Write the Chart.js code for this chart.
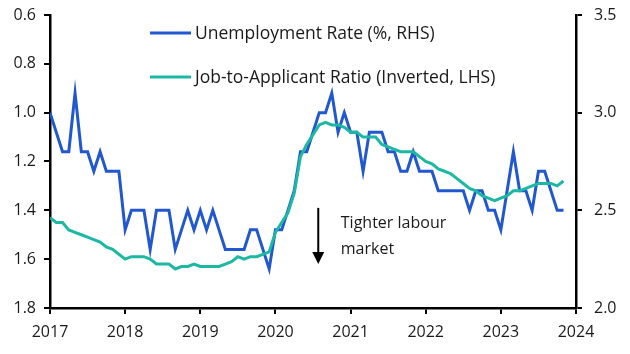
<!DOCTYPE html>
<html>
<head>
<meta charset="utf-8">
<script src="https://cdn.jsdelivr.net/npm/chart.js@4"></script>
<style>
  body { margin: 0; background: #fff; }
  #wrap { width: 630px; height: 354px; }
</style>
</head>
<body>
<div id="wrap"><canvas id="myChart" width="630" height="354"></canvas></div>
<script>
// monthly, Jan 2017 .. Nov 2023
const startYear = 2017;
const unemployment = [
    3.0, 2.9, 2.8, 2.8, 3.1, 2.8, 2.8, 2.7, 2.8, 2.7, 2.7, 2.7,
    2.4, 2.5, 2.5, 2.5, 2.3, 2.5, 2.5, 2.5, 2.3, 2.4, 2.5, 2.4,
    2.5, 2.4, 2.5, 2.4, 2.3, 2.3, 2.3, 2.3, 2.4, 2.4, 2.3, 2.2,
    2.4, 2.4, 2.5, 2.6, 2.8, 2.8, 2.9, 3.0, 3.0, 3.1, 2.9, 3.0,
    2.9, 2.9, 2.7, 2.9, 2.9, 2.9, 2.8, 2.8, 2.7, 2.7, 2.8, 2.7,
    2.7, 2.7, 2.6, 2.6, 2.6, 2.6, 2.6, 2.5, 2.6, 2.6, 2.5, 2.5,
    2.4, 2.6, 2.8, 2.6, 2.6, 2.5, 2.7, 2.7, 2.6, 2.5, 2.5
];
const jobRatio = [
    1.43, 1.45, 1.45, 1.48, 1.49, 1.50, 1.51, 1.52, 1.53, 1.55, 1.56, 1.58,
    1.60, 1.59, 1.59, 1.59, 1.60, 1.62, 1.62, 1.62, 1.64, 1.63, 1.63, 1.62,
    1.63, 1.63, 1.63, 1.63, 1.62, 1.61, 1.59, 1.60, 1.59, 1.59, 1.58, 1.57,
    1.49, 1.45, 1.41, 1.33, 1.18, 1.13, 1.09, 1.05, 1.04, 1.05, 1.05, 1.06,
    1.08, 1.08, 1.10, 1.10, 1.10, 1.13, 1.14, 1.15, 1.16, 1.16, 1.16, 1.18,
    1.20, 1.21, 1.23, 1.24, 1.25, 1.27, 1.29, 1.31, 1.32, 1.34, 1.35, 1.36,
    1.35, 1.34, 1.32, 1.32, 1.31, 1.30, 1.29, 1.29, 1.29, 1.30, 1.28
];
const leftTicks = [0.6, 0.8, 1.0, 1.2, 1.4, 1.6, 1.8];
const rightTicks = [2.0, 2.5, 3.0, 3.5];
const yearTicks = [2017, 2018, 2019, 2020, 2021, 2022, 2023, 2024];

const blue = '#2158cf';
const green = '#1db8a3';
const font = '"Open Sans", "Noto Sans", sans-serif';

function toPoints(arr) {
    return arr.map((v, i) => ({ x: startYear + i / 12, y: v }));
}

const overlay = {
    id: 'overlay',
    afterDraw(chart) {
        const c = chart.ctx;
        const xs = chart.scales.x, yl = chart.scales.yL;
        c.save();
        // legend
        c.lineWidth = 3;
        c.font = '17.5px ' + font;
        c.textBaseline = 'middle';
        c.fillStyle = '#1a1a1a';
        [[blue, 'Unemployment Rate (%, RHS)', 34], [green, 'Job-to-Applicant Ratio (Inverted, LHS)', 78]].forEach(([col, txt, y]) => {
            c.strokeStyle = col;
            c.beginPath();
            c.moveTo(150, y - 1);
            c.lineTo(191, y - 1);
            c.stroke();
            c.fillText(txt, 195, y);
        });
        // arrow annotation
        const ax = xs.getPixelForValue(2020.57);
        const y1 = yl.getPixelForValue(1.39), y2 = yl.getPixelForValue(1.62);
        c.strokeStyle = '#000';
        c.lineWidth = 2;
        c.beginPath();
        c.moveTo(ax, y1);
        c.lineTo(ax, y2 - 10);
        c.stroke();
        c.fillStyle = '#000';
        c.beginPath();
        c.moveTo(ax - 6, y2 - 12);
        c.lineTo(ax + 6, y2 - 12);
        c.lineTo(ax, y2);
        c.closePath();
        c.fill();
        c.fillStyle = '#1a1a1a';
        c.font = '16px ' + font;
        c.fillText('Tighter labour', xs.getPixelForValue(2020.87), yl.getPixelForValue(1.455));
        c.fillText('market', xs.getPixelForValue(2020.87), yl.getPixelForValue(1.56));
        c.restore();
    }
};

const axisStyle = {
    grid: { drawOnChartArea: false, drawTicks: true, tickLength: 6, color: '#000', lineWidth: 2 },
    border: { display: true, color: '#000', width: 2.5 }
};

function fixY(width) {
    return s => { s.width = width; s.paddingTop = 0; s.paddingBottom = 0; };
}

new Chart(document.getElementById('myChart'), {
    type: 'line',
    data: {
        datasets: [
            { label: 'Job-to-Applicant Ratio (Inverted, LHS)', data: toPoints(jobRatio), yAxisID: 'yL',
              borderColor: green, borderWidth: 3, pointRadius: 0, tension: 0 },
            { label: 'Unemployment Rate (%, RHS)', data: toPoints(unemployment), yAxisID: 'yR',
              borderColor: blue, borderWidth: 3, pointRadius: 0, tension: 0 }
        ]
    },
    options: {
        responsive: false,
        animation: false,
        layout: { padding: { top: 15 } },
        plugins: { legend: { display: false }, tooltip: { enabled: false } },
        scales: {
            x: {
                type: 'linear', min: 2017, max: 2024,
                afterBuildTicks: s => { s.ticks = yearTicks.map(v => ({ value: v })); },
                afterFit: s => { s.height = 46; s.paddingLeft = 0; s.paddingRight = 0; },
                ticks: { callback: v => String(v), color: '#1a1a1a', font: { family: font, size: 16 }, padding: 9, maxRotation: 0 },
                ...axisStyle
            },
            yL: {
                position: 'left', reverse: true, min: 0.6, max: 1.8,
                afterBuildTicks: s => { s.ticks = leftTicks.map(v => ({ value: v })); },
                afterFit: fixY(50),
                ticks: { callback: v => v.toFixed(1), color: '#1a1a1a', font: { family: font, size: 16 }, padding: 8 },
                ...axisStyle
            },
            yR: {
                position: 'right', min: 2.0, max: 3.5,
                afterBuildTicks: s => { s.ticks = rightTicks.map(v => ({ value: v })); },
                afterFit: fixY(54),
                ticks: { callback: v => v.toFixed(1), color: '#1a1a1a', font: { family: font, size: 16 }, padding: 12 },
                ...axisStyle
            }
        }
    },
    plugins: [overlay]
});
</script>
</body>
</html>
